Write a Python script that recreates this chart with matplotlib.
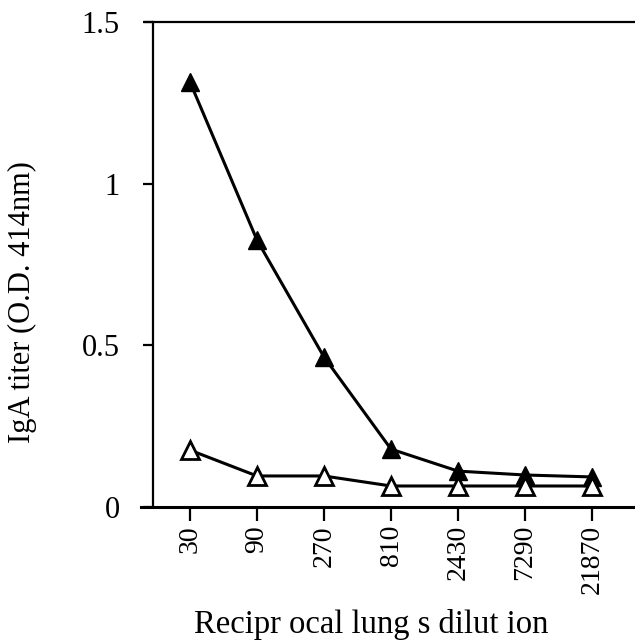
import matplotlib.pyplot as plt

plt.rcParams['font.family'] = ['Liberation Serif', 'DejaVu Serif']

dilutions = ['30', '90', '270', '810', '2430', '7290', '21870']
immunized = [1.315, 0.826, 0.464, 0.179, 0.111, 0.099, 0.093]
control = [0.176, 0.096, 0.096, 0.065, 0.065, 0.065, 0.065]

fig = plt.figure(figsize=(6.35, 6.43), dpi=100)
ax = fig.add_axes([0.241, 0.2115, 0.759, 0.7543])

x = range(len(dilutions))
ax.plot(x, immunized, color='black', lw=2.2, marker='^', ms=13.5,
        mfc='black', mec='black', clip_on=False, zorder=3)
ax.plot(x, control, color='black', lw=2.2, marker='^', ms=13.5,
        mfc='white', mec='black', mew=2, clip_on=False, zorder=3)

ax.set_xlim(-0.55, 6.64)
ax.set_ylim(0, 1.5)
ax.set_yticks([0, 0.5, 1, 1.5])
ax.set_yticklabels(['0', '0.5', '1', '1.5'], fontsize=22)
ax.set_xticks(list(x))
ax.set_xticklabels(dilutions, rotation=90, fontsize=20)

for s in ['top', 'right', 'bottom']:
    ax.spines[s].set_visible(False)
ax.spines['left'].set_linewidth(1.6)
# top and bottom lines stick out a bit left of the y axis
ax.plot([-0.016, 1], [1, 1], transform=ax.transAxes, color='black',
        lw=1.6, clip_on=False)
ax.plot([-0.025, 1], [0, 0], transform=ax.transAxes, color='black',
        lw=2.2, clip_on=False)

ax.tick_params(axis='y', direction='out', length=7, width=1.6, pad=17)
ax.tick_params(axis='x', direction='out', length=10, width=1.6, pad=3)

ax.set_xlabel('Recipr ocal lung s dilut ion', fontsize=23.5)
ax.xaxis.set_label_coords(0.452, -0.21)
ax.set_ylabel('IgA titer (O.D. 414nm)', fontsize=22)
ax.yaxis.set_label_coords(-0.24, 0.423)

fig.savefig('out.png', dpi=100)
